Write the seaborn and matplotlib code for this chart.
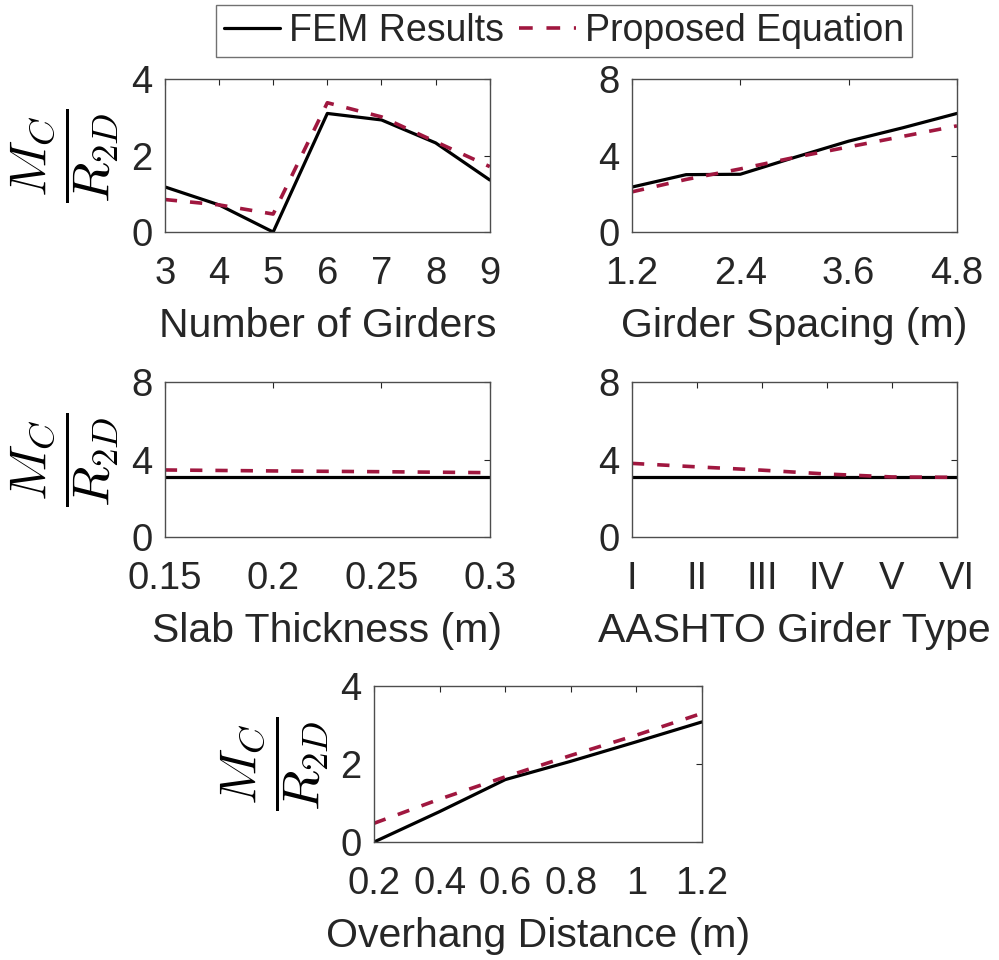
import numpy as np
import pandas as pd
import matplotlib
matplotlib.use("Agg")
import matplotlib.pyplot as plt
import seaborn as sns
from matplotlib.lines import Line2D

# ---------------- data ----------------
girders_n = [3, 4, 5, 6, 7, 8, 9]
girders_fem = [1.18, 0.71, 0.0, 3.10, 2.93, 2.33, 1.36]
girders_eq = [0.85, 0.71, 0.47, 3.38, 3.01, 2.36, 1.71]

spacing_m = [1.2, 1.8, 2.4, 3.0, 3.6, 4.2, 4.8]
spacing_fem = [2.35, 3.0, 3.02, 3.9, 4.75, 5.45, 6.2]
spacing_eq = [2.1, 2.75, 3.3, 3.9, 4.45, 5.0, 5.55]

slab_m = [0.15, 0.20, 0.25, 0.30]
slab_fem = [3.08, 3.08, 3.08, 3.08]
slab_eq = [3.46, 3.41, 3.37, 3.32]

girder_types = ["I", "II", "III", "IV", "V", "VI"]
type_fem = [3.08, 3.08, 3.08, 3.08, 3.08, 3.08]
type_eq = [3.8, 3.62, 3.45, 3.25, 3.1, 3.08]

overhang_m = [0.2, 0.4, 0.6, 0.8, 1.0, 1.2]
overhang_fem = [0.0, 0.78, 1.6, 2.07, 2.57, 3.08]
overhang_eq = [0.48, 1.1, 1.67, 2.22, 2.74, 3.3]

xlabels = ["Number of Girders", "Girder Spacing (m)", "Slab Thickness (m)",
           "AASHTO Girder Type", "Overhang Distance (m)"]
legend_labels = ["FEM Results", "Proposed Equation"]

# ---------------- style ----------------
sns.set_style("white")
plt.rcParams["font.family"] = ["Liberation Sans", "DejaVu Sans"]
plt.rcParams["mathtext.fontset"] = "cm"

TXT = "#262626"
RED = "#A0173F"
FS_TICK = 27.5
FS_LAB = 29.5
DASH = (0, (3.4, 3.6))

fig = plt.figure(figsize=(9.99, 9.6), dpi=100)

positions = [
    [0.165, 0.7583, 0.3253, 0.1594],
    [0.6326, 0.7583, 0.3253, 0.1594],
    [0.165, 0.4406, 0.3253, 0.1615],
    [0.6326, 0.4406, 0.3253, 0.1615],
    [0.3744, 0.1229, 0.3283, 0.1625],
]

type_pos = list(range(1, len(girder_types) + 1))

panels = [
    (girders_n, girders_fem, girders_eq, (3, 9), [3, 4, 5, 6, 7, 8, 9], None, (0, 4), [0, 2, 4]),
    (spacing_m, spacing_fem, spacing_eq, (1.2, 4.8), [1.2, 2.4, 3.6, 4.8], ["1.2", "2.4", "3.6", "4.8"], (0, 8), [0, 4, 8]),
    (slab_m, slab_fem, slab_eq, (0.15, 0.3), [0.15, 0.2, 0.25, 0.3], ["0.15", "0.2", "0.25", "0.3"], (0, 8), [0, 4, 8]),
    (type_pos, type_fem, type_eq, (1, 6), type_pos, girder_types, (0, 8), [0, 4, 8]),
    (overhang_m, overhang_fem, overhang_eq, (0.2, 1.2), [0.2, 0.4, 0.6, 0.8, 1.0, 1.2],
     ["0.2", "0.4", "0.6", "0.8", "1", "1.2"], (0, 4), [0, 2, 4]),
]

for i, (pos, (x, fem, eq, xl, xt, xtl, yl, yt)) in enumerate(zip(positions, panels)):
    ax = fig.add_axes(pos)
    df = pd.DataFrame({"x": x, "fem": fem, "eq": eq})
    sns.lineplot(data=df, x="x", y="fem", ax=ax, color="black", lw=2.3, sort=False)
    sns.lineplot(data=df, x="x", y="eq", ax=ax, color=RED, lw=2.6, sort=False,
                 linestyle=DASH)
    ax.set_xlim(*xl)
    ax.set_ylim(*yl)
    ax.set_xticks(xt)
    if xtl is not None:
        ax.set_xticklabels(xtl)
    ax.set_yticks(yt)
    ax.tick_params(direction="in", length=4, width=0.8, colors=TXT, labelsize=FS_TICK,
                   top=True, right=True)
    ax.tick_params(axis="x", pad=17)
    ax.tick_params(axis="y", pad=9)
    for sp in ax.spines.values():
        sp.set_visible(True)
        sp.set_color("#4d4d4d")
        sp.set_linewidth(1.0)
    ax.set_xlabel(xlabels[i], fontsize=FS_LAB, color=TXT, labelpad=11)
    if i in (0, 2, 4):
        ax.set_ylabel(r"$\dfrac{M_C}{R_{2D}}$", fontsize=38, color="black", labelpad=7)
    else:
        ax.set_ylabel("")
    ax.set_facecolor("white")

handles = [Line2D([], [], color="black", lw=2.3),
           Line2D([], [], color=RED, lw=2.6, linestyle=(0, (3.8, 3.8)))]
leg = fig.legend(handles, legend_labels, loc="upper center", bbox_to_anchor=(0.5646, 0.995),
                 ncol=2, fontsize=27, frameon=True, fancybox=False, handlelength=1.5,
                 handletextpad=0.24, columnspacing=0.4, borderpad=0.22, borderaxespad=0.0)
leg.get_frame().set_edgecolor("#4d4d4d")
leg.get_frame().set_linewidth(1.0)

fig.savefig("out.png", dpi=100, facecolor="white")
